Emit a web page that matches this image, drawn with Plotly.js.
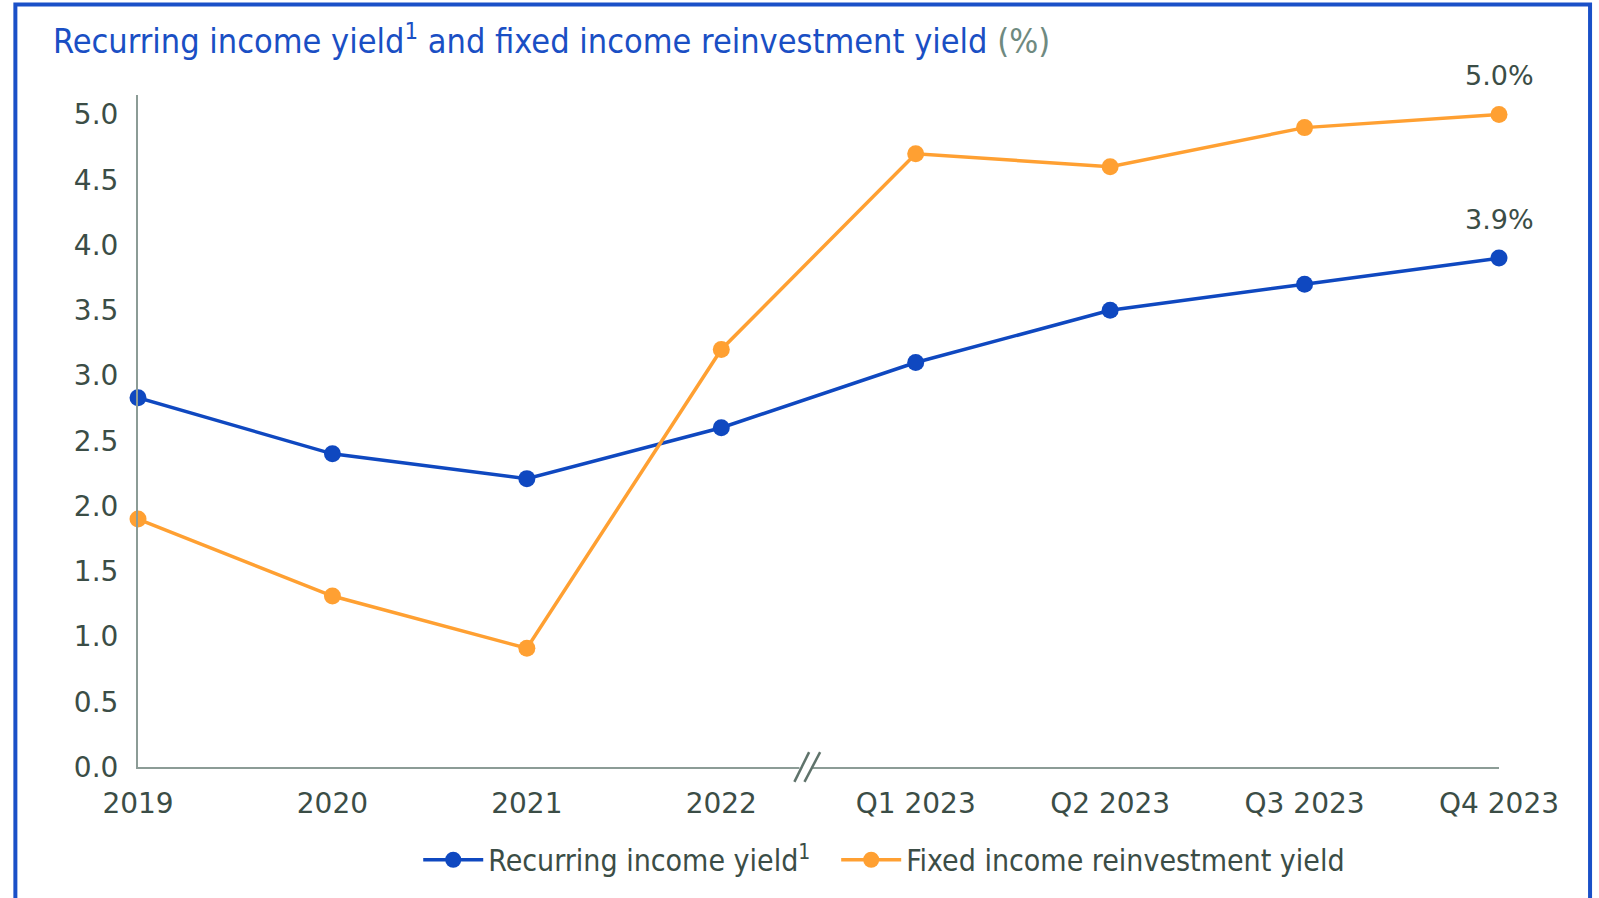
<!DOCTYPE html>
<html>
<head>
<meta charset="utf-8">
<script src="https://cdn.plot.ly/plotly-3.0.1.min.js"></script>
<style>
  html, body { margin: 0; padding: 0; background: #ffffff; }
  #chart { width: 1599px; height: 898px; }
</style>
</head>
<body>
<div id="chart"></div>
<script>
// ---- Data ----
const categories = ["2019", "2020", "2021", "2022", "Q1 2023", "Q2 2023", "Q3 2023", "Q4 2023"];
const recurringIncomeYield = [2.83, 2.40, 2.21, 2.60, 3.10, 3.50, 3.70, 3.90];
const fixedIncomeReinvestmentYield = [1.90, 1.31, 0.91, 3.20, 4.70, 4.60, 4.90, 5.00];
const seriesNames = ["Recurring income yield<sup>1</sup>", "Fixed income reinvestment yield"];
const yTickValues = [0, 0.5, 1, 1.5, 2, 2.5, 3, 3.5, 4, 4.5, 5];
const chartTitle = 'Recurring income yield<sup>1</sup> and fixed income reinvestment yield <span style="color:#6f8a80">(%)</span>';

// ---- Styles ----
const BLUE = "#0f48c0";
const ORANGE = "#ffa032";
const TEXT = "#3b4d46";
const AXIS = "#8c9c96";
const FRAME = "#1a50c8";
const NARROW = "'Liberation Sans Narrow', 'DejaVu Sans Condensed', 'Arial Narrow', sans-serif";
const WIDE = "'DejaVu Sans', 'Liberation Sans', sans-serif";

const traces = [
  {
    x: categories, y: recurringIncomeYield, name: seriesNames[0],
    type: "scatter", mode: "lines+markers", cliponaxis: false, legend: "legend",
    line: { color: BLUE, width: 3.5 },
    marker: { color: BLUE, size: 17 }
  },
  {
    x: categories, y: fixedIncomeReinvestmentYield, name: seriesNames[1],
    type: "scatter", mode: "lines+markers", cliponaxis: false, legend: "legend2",
    line: { color: ORANGE, width: 3.5 },
    marker: { color: ORANGE, size: 17 }
  }
];

const last = categories.length - 1;
const annotations = [
  { x: categories[last], y: fixedIncomeReinvestmentYield[last], text: fixedIncomeReinvestmentYield[last].toFixed(1) + "%",
    showarrow: false, yshift: 39, xanchor: "center", yanchor: "middle",
    font: { family: WIDE, size: 27, color: TEXT } },
  { x: categories[last], y: recurringIncomeYield[last], text: recurringIncomeYield[last].toFixed(1) + "%",
    showarrow: false, yshift: 39, xanchor: "center", yanchor: "middle",
    font: { family: WIDE, size: 27, color: TEXT } }
];

// plot area: x 137.7..1499, y 95..770 (px)
const shapes = [
  // outer frame
  { type: "rect", xref: "paper", yref: "paper", x0: -0.0901, x1: 1.0669, y0: -0.6, y1: 1.1348,
    line: { color: FRAME, width: 4 }, fillcolor: "rgba(0,0,0,0)", layer: "above" },
  // axis break gap
  { type: "line", xref: "paper", yref: "paper", x0: 0.4860, x1: 0.4945, y0: 0, y1: 0,
    line: { color: "#ffffff", width: 6 }, layer: "above" },
  // axis break slashes
  { type: "line", xref: "paper", yref: "paper", x0: 0.4823, x1: 0.4931, y0: -0.0222, y1: 0.0222,
    line: { color: "#5f736b", width: 2.5 }, layer: "above" },
  { type: "line", xref: "paper", yref: "paper", x0: 0.4897, x1: 0.5012, y0: -0.0222, y1: 0.0222,
    line: { color: "#5f736b", width: 2.5 }, layer: "above" }
];

const legendCommon = {
  orientation: "h", xanchor: "left", y: -0.138, yanchor: "middle",
  font: { family: NARROW, size: 30, color: TEXT },
  itemwidth: 60, bgcolor: "rgba(0,0,0,0)"
};

const layout = {
  width: 1599, height: 898,
  paper_bgcolor: "#ffffff", plot_bgcolor: "#ffffff",
  margin: { l: 137.7, r: 100, t: 95, b: 128, pad: 0 },
  title: {
    text: chartTitle,
    x: 53 / 1599, xanchor: "left", xref: "container",
    y: 1 - 41 / 898, yanchor: "middle", yref: "container",
    font: { family: NARROW, size: 34, color: "#1a4fc4" }
  },
  showlegend: true,
  legend: Object.assign({}, legendCommon, { x: 0.2059 }),
  legend2: Object.assign({}, legendCommon, { x: 0.5130 }),
  xaxis: {
    type: "category", range: [0, last],
    showgrid: false, zeroline: false,
    showline: true, linecolor: AXIS, linewidth: 2,
    ticks: "", ticklabelstandoff: 10,
    tickfont: { family: WIDE, size: 28, color: TEXT },
    fixedrange: true
  },
  yaxis: {
    range: [0, 5.15],
    tickvals: yTickValues, tickformat: ".1f",
    showgrid: false, zeroline: false,
    showline: true, linecolor: AXIS, linewidth: 2,
    ticks: "", ticklabelstandoff: 12,
    tickfont: { family: WIDE, size: 28, color: TEXT },
    fixedrange: true
  },
  annotations: annotations,
  shapes: shapes
};

Plotly.newPlot("chart", traces, layout, { displayModeBar: false, staticPlot: true });
</script>
</body>
</html>
